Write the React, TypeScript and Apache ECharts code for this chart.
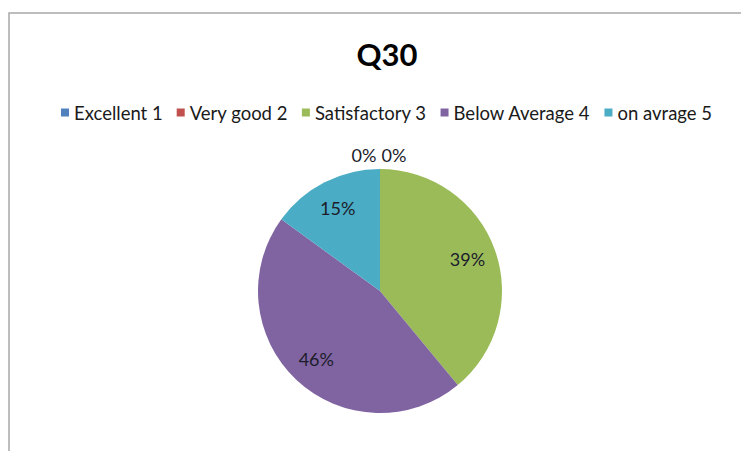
import React, { useEffect, useRef } from "react";
import * as echarts from "echarts";

const title = "Q30";
const categories = ["Excellent 1", "Very good 2", "Satisfactory 3", "Below Average 4", "on avrage 5"];
const values = [0, 0, 39, 46, 15];
const colors = ["#4F81BD", "#C0504D", "#9BBB59", "#8064A2", "#4BACC6"];

const FONT = "Lato, 'Liberation Sans', sans-serif";

export default function App() {
  const ref = useRef<HTMLDivElement>(null);
  useEffect(() => {
    if (!ref.current) return;
    const chart = echarts.init(ref.current, undefined, { renderer: "svg" });
    const data = categories.map((name, i) => ({ name, value: values[i], itemStyle: { color: colors[i] } }));
    const labelData = categories.map((name, i) => ({ name, value: values[i] }));
    chart.setOption({
      animation: false,
      backgroundColor: "#ffffff",
      title: {
        text: title,
        left: 382,
        top: 33,
        textAlign: "center",
        textStyle: { fontFamily: FONT, fontSize: 31, fontWeight: "bold", color: "#000000" },
      },
      legend: {
        data: categories,
        left: 56,
        top: 98,
        icon: "rect",
        itemWidth: 8,
        itemHeight: 8,
        itemGap: 14,
        textStyle: { fontFamily: FONT, fontSize: 18.5, color: "#1a1a1a" },
      },
      graphic: [
        {
          type: "rect",
          shape: { x: 9, y: 13, width: 800, height: 500 },
          style: { fill: "none", stroke: "#a8a8a8", lineWidth: 1.5 },
          silent: true,
          z: -10,
        },
      ],
      series: [
        {
          type: "pie",
          center: [380, 291],
          radius: [0, 122],
          startAngle: 90,
          clockwise: true,
          data,
          label: { show: false },
          labelLine: { show: false },
          emphasis: { disabled: true },
          itemStyle: { borderWidth: 0 },
        },
        {
          type: "pie",
          center: [380, 291],
          radius: [58, 122],
          startAngle: 90,
          clockwise: true,
          silent: true,
          data: labelData,
          itemStyle: { color: "rgba(0,0,0,0)", borderWidth: 0 },
          emphasis: { disabled: true },
          labelLine: { show: false },
          label: {
            show: true,
            position: "inside",
            formatter: (p: any) => Math.round(p.percent) + "%",
            fontFamily: FONT,
            fontSize: 18,
            color: "#1c1c2a",
            textBorderWidth: 0,
          },
          labelLayout: (p: any) => {
            if (p.dataIndex === 0) return { dx: -16, dy: -43 };
            if (p.dataIndex === 1) return { dx: 14, dy: -43 };
            return {};
          },
        },
      ],
    });
    return () => chart.dispose();
  }, []);
  return <div ref={ref} style={{ position: "absolute", left: 0, top: 0, width: 741, height: 451 }} />;
}
